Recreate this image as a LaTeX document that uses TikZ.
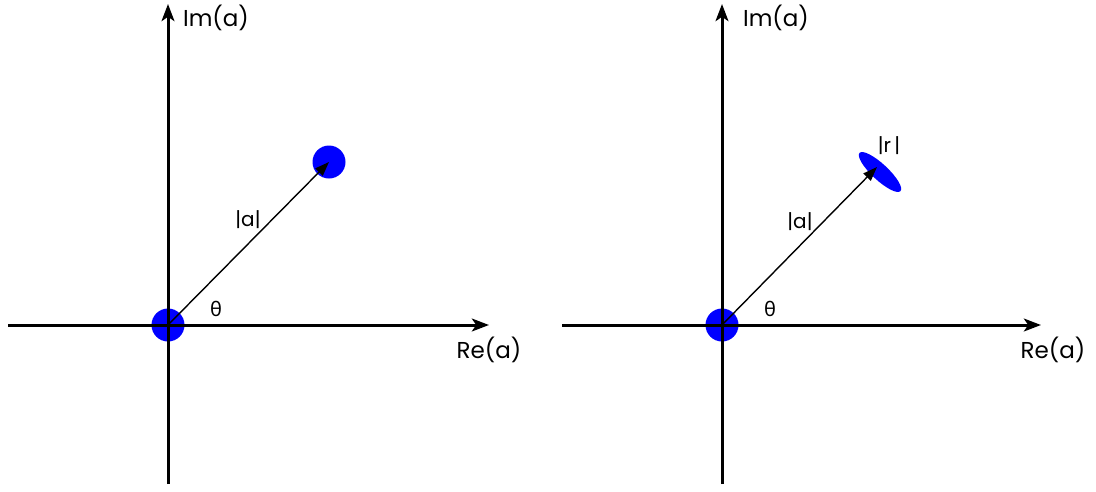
\documentclass[tikz,border=0pt]{standalone}
\usepackage{fontspec}
\setmainfont{Poppins}
\newfontfamily\greekfont{Noto Sans}
\usepackage{tikz}
\usetikzlibrary{arrows.meta}

\begin{document}
\begin{tikzpicture}[x=1pt,y=-1pt,>={Stealth[length=6mm,width=4.5mm,inset=1.5mm]}]
  \useasboundingbox (0,0) rectangle (1096,491);
  \tikzset{
    axis/.style={line width=3pt,->},
    vec/.style={line width=1.4pt,-{Triangle[length=5mm,width=3.6mm]}},
    dot/.style={circle,fill=blue,inner sep=0pt,minimum size=33pt},
    biglbl/.style={font=\fontsize{23}{26}\selectfont,inner sep=0pt},
    smalllbl/.style={font=\fontsize{20}{24}\selectfont,inner sep=0pt}
  }
  % left panel
  \coordinate (lo) at (168,325);
  \coordinate (lxs) at (8,325);   \coordinate (lxe) at (489,325);
  \coordinate (lys) at (168,484); \coordinate (lye) at (168,4);
  \node[dot] (lorig) at (lo) {};
  \node[dot] (lpt) at (329,162) {};
  \draw[axis] (lxs) -- (lxe);
  \draw[axis] (lys) -- (lye);
  \draw[vec] (lo) -- (lpt.center);
  \node[biglbl] (lim) at (216,18) {Im(a)};
  \node[biglbl] (lre) at (489,350) {Re(a)};
  \node[smalllbl] (labs) at (248,220) {|a|};
  \node[smalllbl] (lth) at (216,309) {\greekfont θ};
  % right panel
  \coordinate (ro) at (722,325);
  \coordinate (rxs) at (562,325); \coordinate (rxe) at (1041,325);
  \coordinate (rys) at (722,484); \coordinate (rye) at (722,4);
  \node[dot] (rorig) at (ro) {};
  \fill[blue,rotate around={-43:(880,172)}] (880,172) ellipse (28 and 8);
  \coordinate (rpt) at (877,167);
  \draw[axis] (rxs) -- (rxe);
  \draw[axis] (rys) -- (rye);
  \draw[vec] (ro) -- (rpt);
  \node[biglbl] (rim) at (776,18) {Im(a)};
  \node[biglbl] (rre) at (1053,350) {Re(a)};
  \node[smalllbl] (rabs) at (800,222) {|a|};
  \node[smalllbl] (rr) at (889,146) {|r\,|};
  \node[smalllbl] (rth) at (770,309) {\greekfont θ};
\end{tikzpicture}
\end{document}
